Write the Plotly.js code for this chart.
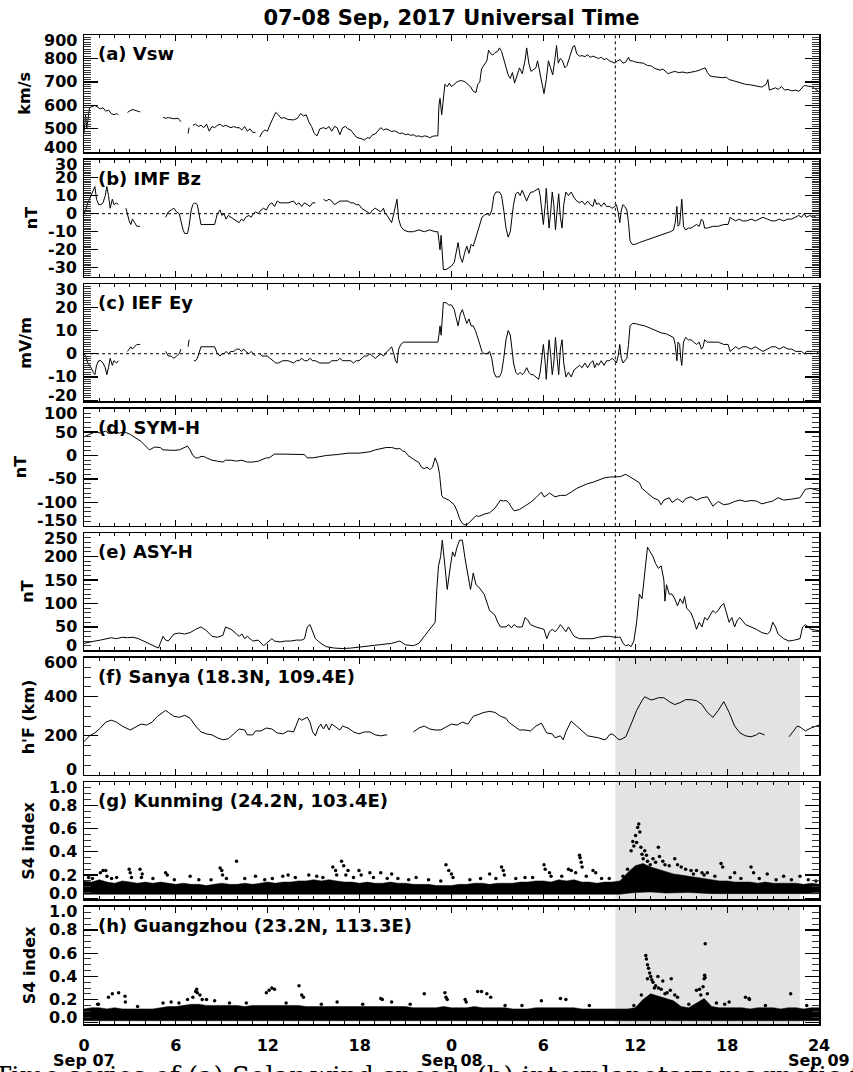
<!DOCTYPE html>
<html><head><meta charset="utf-8">
<script src="https://cdn.plot.ly/plotly-3.0.1.min.js"></script>
<style>html,body{margin:0;padding:0;background:#fff}#chart{width:853px;height:1072px}</style>
</head><body><div id="chart"></div>
<script>
// ---------------- DATA (time in hours from 00 UT Sep 07) ----------------
const hourTicks = [0,6,12,18,24,30,36,42,48];
const hourLabels = ['0','6','12','18','0','6','12','18','24'];
const dayTicks = [0,24,48];
const dayLabels = ['Sep 07','Sep 08','Sep 09'];
const eventTime = 34.7;      // dotted line / start of shaded interval
const shadeEnd = 46.75;      // end of shaded interval

const panelLabels = ['(a) Vsw','(b) IMF Bz','(c) IEF Ey','(d) SYM-H','(e) ASY-H',
  '(f) Sanya (18.3N, 109.4E)','(g) Kunming (24.2N, 103.4E)','(h) Guangzhou (23.2N, 113.3E)'];
const yTitles = ['km/s','nT','mV/m','nT','nT',"h'F (km)",'S4 index','S4 index'];
const yTicksA = [400,500,600,700,800,900];
const yTicksB = [-30,-20,-10,0,10,20,30];
const yTicksC = [-20,-10,0,10,20,30];
const yTicksD = [-150,-100,-50,0,50,100];
const yTicksE = [0,50,100,150,200,250];
const yTicksF = [0,200,400,600];
const yTicksS4 = [0,0.2,0.4,0.6,0.8,1.0];
const captionText = 'Time series of (a) Solar wind speed; (b) interplanetary magnetic field';

const vswData = [[0,480],[0.1,560],[0.18,500],[0.36,590],[0.71,600],[1.07,585],[1.24,590],[1.42,575],[1.6,580],[1.78,565],[1.96,560],[2.13,565],[2.24,560],[2.5,null],
[2.84,570],[3.02,578],[3.2,582],[3.38,578],[3.66,572],[4.5,null],
[5.16,550],[5.33,545],[5.51,548],[5.87,543],[6.15,545],[6.33,530],[6.5,null],
[6.8,480],[6.86,505],[6.95,null],
[7.11,515],[7.29,520],[7.47,510],[7.64,515],[7.82,505],[8.0,520],[8.18,490],[8.36,510],[8.53,505],[8.71,515],[8.89,520],[9.07,510],[9.24,515],[9.42,510],[9.6,505],[9.78,510],[9.96,505],[10.13,505],[10.31,495],[10.49,510],[10.67,490],[10.84,500],[11.02,485],[11.2,485],[11.35,null],
[11.48,465],[11.63,485],[11.8,495],[11.98,490],[12.16,520],[12.34,545],[12.52,570],[12.69,560],[12.87,545],[13.05,548],[13.33,540],[13.69,538],[13.94,545],[14.15,565],[14.33,555],[14.51,560],[14.68,530],[14.86,510],[15.04,480],[15.22,470],[15.4,500],[15.64,505],[15.82,500],[16.0,510],[16.18,490],[16.36,510],[16.53,505],[16.71,475],[16.89,505],[17.07,510],[17.24,500],[17.42,495],[17.6,480],[17.78,465],[17.96,460],[18.13,458],[18.31,452],[18.49,462],[18.67,460],[18.84,475],[19.02,478],[19.2,490],[19.38,505],[19.56,495],[19.73,500],[19.91,495],[20.09,488],[20.27,492],[20.44,485],[20.62,480],[20.8,482],[20.98,475],[21.16,478],[21.33,472],[21.51,475],[21.69,468],[21.87,470],[22.04,465],[22.22,470],[22.4,468],[22.58,462],[22.76,468],[22.93,470],[23.11,470],[23.18,600],[23.25,630],[23.36,560],[23.47,640],[23.57,690],[23.72,680],[23.86,695],[24.0,680],[24.18,690],[24.36,700],[24.53,705],[24.71,705],[24.89,700],[25.07,690],[25.24,680],[25.42,660],[25.6,655],[25.71,690],[25.85,700],[25.96,755],[26.13,770],[26.31,790],[26.42,835],[26.56,820],[26.7,815],[26.84,825],[27.02,830],[27.13,845],[27.27,830],[27.41,800],[27.56,770],[27.7,730],[27.84,715],[27.98,740],[28.12,695],[28.27,730],[28.44,760],[28.62,735],[28.8,790],[28.91,845],[29.05,780],[29.19,745],[29.33,750],[29.51,760],[29.62,790],[29.76,740],[29.9,700],[30.04,650],[30.19,710],[30.33,790],[30.47,760],[30.61,730],[30.76,800],[30.86,855],[30.97,780],[31.11,800],[31.25,790],[31.4,760],[31.54,770],[31.68,800],[31.82,825],[31.93,850],[32.04,855],[32.18,820],[32.36,810],[32.53,812],[32.71,808],[32.89,815],[33.07,805],[33.24,810],[33.42,805],[33.6,800],[33.78,805],[33.96,795],[34.13,800],[34.31,790],[34.49,785],[34.67,780],[34.84,790],[35.02,795],[35.2,780],[35.38,785],[35.56,805],[35.66,790],[35.8,790],[36.0,785],[36.27,782],[36.52,780],[36.8,770],[37.05,768],[37.26,758],[37.44,755],[37.62,750],[37.8,755],[37.97,745],[38.15,735],[38.33,740],[38.58,745],[38.83,740],[39.11,742],[39.36,738],[39.64,740],[39.93,745],[40.18,750],[40.43,755],[40.57,760],[40.71,740],[40.89,725],[41.14,722],[41.42,720],[41.71,718],[41.96,720],[42.13,710],[42.42,705],[42.67,700],[42.92,695],[43.2,690],[43.48,688],[43.73,685],[43.98,680],[44.27,678],[44.55,690],[44.66,710],[44.76,665],[44.98,670],[45.16,675],[45.33,668],[45.55,680],[45.76,665],[45.97,668],[46.22,662],[46.47,665],[46.68,660],[46.86,675],[47.04,685],[47.29,682],[47.54,680],[47.75,670],[48,658]];

const bzData = [[0,0],[0.11,2],[0.25,6],[0.36,8],[0.46,10],[0.6,13],[0.71,15],[0.82,8],[0.96,5],[1.1,5],[1.24,6],[1.39,10],[1.49,15],[1.6,10],[1.71,3],[1.85,8],[1.96,5],[2.13,6],[2.24,5],[2.4,null],
[2.74,3],[2.84,-1],[2.95,-4],[3.06,-6],[3.16,-3],[3.31,-5],[3.45,-7],[3.66,-7],[4.5,null],
[5.33,-2],[5.51,1],[5.69,2],[5.87,3],[6.04,1],[6.22,0],[6.33,-4],[6.47,-9],[6.58,-11],[6.76,-11],[6.86,-7],[7.0,2],[7.11,5],[7.22,6],[7.4,5],[7.5,0],[7.64,-6],[7.82,-6],[8.18,-6],[8.53,-6],[8.71,0],[8.89,2],[9.0,-1],[9.14,0],[9.28,-3],[9.42,-1],[9.6,-2],[9.78,-3],[9.96,-4],[10.13,-5],[10.28,-3],[10.42,-4],[10.56,-2],[10.77,-1],[10.92,-2],[11.06,0],[11.2,1],[11.38,0],[11.56,2],[11.73,3],[11.91,2],[12.09,5],[12.27,6],[12.44,4],[12.62,7],[12.8,6],[12.98,6],[13.33,6],[13.69,7],[13.87,5],[14.04,6],[14.22,4],[14.4,6],[14.58,5],[14.76,4],[14.93,6],[15.11,6],[15.3,null],
[15.64,8],[15.82,7],[16.0,8],[16.18,7],[16.36,5],[16.53,6],[16.71,7],[16.89,7],[17.24,7],[17.42,6],[17.6,6],[17.78,5],[17.96,5],[18.13,3],[18.31,2],[18.49,1],[18.67,0],[18.84,2],[19.02,3],[19.2,2],[19.38,1],[19.56,3],[19.66,0],[19.8,-1],[19.95,-3],[20.09,-5],[20.23,0],[20.34,5],[20.44,8],[20.55,-3],[20.69,-7],[20.87,-9],[21.16,-10],[21.51,-10],[21.87,-9],[22.22,-10],[22.58,-9],[22.93,-10],[23.11,-10],[23.18,-15],[23.25,-20],[23.32,-12],[23.4,-25],[23.47,-31],[23.64,-31],[23.82,-30],[24.0,-29],[24.18,-27],[24.28,-22],[24.43,-16],[24.57,-24],[24.71,-27],[24.85,-22],[25.0,-18],[25.14,-22],[25.28,-17],[25.42,-18],[25.56,-14],[25.71,-10],[25.85,-6],[25.99,-2],[26.13,-1],[26.31,0],[26.49,-1],[26.63,2],[26.77,10],[26.91,12],[27.13,12],[27.27,10],[27.41,2],[27.56,-8],[27.7,-13],[27.84,-10],[27.95,-2],[28.05,5],[28.2,11],[28.34,12],[28.48,10],[28.62,13],[28.76,10],[28.91,7],[29.05,10],[29.19,12],[29.33,12],[29.51,13],[29.69,14],[29.79,10],[29.9,0],[30.0,-6],[30.12,5],[30.19,14],[30.26,5],[30.37,-8],[30.47,0],[30.58,12],[30.68,5],[30.79,-9],[30.9,2],[31.0,11],[31.11,-2],[31.22,-8],[31.33,5],[31.47,12],[31.64,10],[31.82,12],[32.0,9],[32.18,7],[32.36,6],[32.53,7],[32.71,5],[32.89,7],[33.07,5],[33.24,4],[33.35,8],[33.49,5],[33.6,6],[33.78,4],[33.96,6],[34.13,4],[34.31,4],[34.49,3],[34.67,4],[34.77,5],[34.88,1],[34.99,-5],[35.09,2],[35.2,5],[35.31,4],[35.45,2],[35.56,-5],[35.66,-15],[35.8,-17],[36.0,-17],[36.27,-16],[36.62,-15],[36.98,-14],[37.33,-13],[37.69,-12],[38.04,-11],[38.29,-10],[38.5,-9],[38.61,-5],[38.72,4],[38.79,-7],[38.9,-6],[38.97,2],[39.04,8],[39.15,-7],[39.29,-9],[39.47,-8],[39.64,-8],[39.82,-7],[40.0,-6],[40.18,-7],[40.32,-3],[40.43,-4],[40.53,-8],[40.71,-8],[41.07,-7],[41.42,-7],[41.78,-6],[42.06,-6],[42.2,-2],[42.35,-3],[42.56,-4],[42.77,-3],[43.02,-4],[43.27,-4],[43.56,-3],[43.84,-4],[44.09,-3],[44.34,-2],[44.62,-3],[44.91,-4],[45.16,-4],[45.4,-3],[45.69,-4],[45.97,-3],[46.22,-3],[46.47,-2],[46.68,-1],[46.86,-2],[47.04,0],[47.18,-2],[47.4,-1],[47.64,-2],[47.82,-1],[48,-1]];

const eyData = [[0,0],[0.11,-1],[0.25,-4],[0.36,-5],[0.46,-6],[0.6,-8],[0.71,-9],[0.82,-5],[0.96,-3],[1.1,-3],[1.24,-4],[1.39,-6],[1.49,-9],[1.6,-6],[1.71,-2],[1.85,-5],[1.96,-3],[2.13,-4],[2.24,-3],[2.5,null],
[2.84,1],[2.95,2],[3.06,3],[3.16,2],[3.31,3],[3.45,4],[3.66,4],[4.5,null],
[5.33,1],[5.51,-1],[5.69,-1],[5.87,-2],[6.04,-1],[6.22,0],[6.33,2],[6.5,null],
[6.8,3],[6.86,6],[6.95,null],
[7.18,-3],[7.29,-3],[7.4,-2],[7.5,0],[7.64,3],[7.82,3],[8.18,3],[8.53,3],[8.71,0],[8.89,-1],[9.0,0],[9.14,0],[9.28,1],[9.42,0],[9.6,1],[9.78,1],[9.96,2],[10.13,2],[10.28,1],[10.42,2],[10.56,1],[10.77,0],[10.92,1],[11.06,0],[11.2,-1],[11.35,null],
[11.48,0],[11.63,-1],[11.8,-1],[11.98,-1],[12.16,-2],[12.34,-3],[12.52,-4],[12.69,-4],[12.98,-3],[13.33,-3],[13.69,-4],[13.87,-3],[14.04,-3],[14.22,-2],[14.4,-3],[14.58,-3],[14.76,-2],[14.93,-3],[15.11,-3],[15.4,-4],[15.64,-4],[15.82,-4],[16.0,-4],[16.18,-3],[16.36,-3],[16.53,-3],[16.71,-2],[16.89,-3],[17.24,-3],[17.42,-3],[17.6,-4],[17.78,-3],[17.96,-3],[18.13,-2],[18.31,-1],[18.49,-1],[18.67,0],[18.84,-1],[19.02,-2],[19.2,-1],[19.38,0],[19.56,-1],[19.66,0],[19.8,1],[19.95,2],[20.09,3],[20.23,0],[20.34,-3],[20.44,-4],[20.55,2],[20.69,4],[20.87,5],[21.16,5],[21.51,5],[21.87,5],[22.22,5],[22.58,5],[22.93,5],[23.11,5],[23.18,8],[23.25,12],[23.32,8],[23.4,15],[23.47,22],[23.64,22],[23.82,21],[24.0,21],[24.18,19],[24.28,16],[24.43,12],[24.57,17],[24.71,19],[24.85,16],[25.0,13],[25.14,15],[25.28,12],[25.42,12],[25.56,10],[25.71,7],[25.85,4],[25.99,1],[26.13,0],[26.31,0],[26.49,1],[26.63,-2],[26.77,-8],[26.91,-10],[27.13,-10],[27.27,-8],[27.41,-2],[27.56,6],[27.7,10],[27.84,8],[27.95,2],[28.05,-4],[28.2,-8],[28.34,-9],[28.48,-8],[28.62,-9],[28.76,-8],[28.91,-6],[29.05,-8],[29.19,-9],[29.33,-9],[29.51,-10],[29.69,-11],[29.79,-8],[29.9,0],[30.0,4],[30.12,-4],[30.19,-11],[30.26,-4],[30.37,6],[30.47,0],[30.58,-9],[30.68,-4],[30.79,7],[30.9,-2],[31.0,-9],[31.11,2],[31.22,6],[31.33,-4],[31.47,-10],[31.64,-8],[31.82,-10],[32.0,-7],[32.18,-6],[32.36,-5],[32.53,-6],[32.71,-4],[32.89,-6],[33.07,-4],[33.24,-3],[33.35,-6],[33.49,-4],[33.6,-5],[33.78,-3],[33.96,-5],[34.13,-3],[34.31,-3],[34.49,-2],[34.67,-3],[34.77,-4],[34.88,-1],[34.99,4],[35.09,-2],[35.2,-4],[35.31,-3],[35.45,-2],[35.56,4],[35.66,12],[35.8,13],[36.0,13],[36.27,12.5],[36.62,12],[36.98,11],[37.33,10],[37.69,9],[38.04,8.5],[38.29,7.5],[38.5,7],[38.61,4],[38.72,-3],[38.79,5],[38.9,4],[38.97,-2],[39.04,-5],[39.15,5],[39.29,7],[39.47,6],[39.64,6],[39.82,5],[40.0,4],[40.18,5],[40.32,2],[40.43,3],[40.53,6],[40.71,5],[41.07,5],[41.42,5],[41.78,4],[42.06,4],[42.2,1],[42.35,2],[42.56,3],[42.77,2],[43.02,3],[43.27,3],[43.56,2],[43.84,3],[44.09,2],[44.34,1],[44.62,2],[44.91,3],[45.16,3],[45.4,2],[45.69,3],[45.97,2],[46.22,2],[46.47,1],[46.68,1],[46.86,1],[47.04,0],[47.18,1],[47.4,1],[47.64,1],[47.82,1],[48,0]];

const symhData = [[0,40],[0.36,45],[0.71,50],[1.07,48],[1.42,52],[1.6,47],[1.96,50],[2.31,48],[2.67,50],[3.02,45],[3.38,38],[3.73,30],[4.09,18],[4.27,12],[4.62,18],[4.98,17],[5.16,12],[5.51,11],[5.87,11],[6.22,12],[6.4,15],[6.76,20],[6.93,12],[7.11,0],[7.29,-5],[7.47,-5],[7.64,-2],[7.82,-2],[8.0,-5],[8.36,-10],[8.71,-12],[9.07,-14],[9.24,-10],[9.6,-10],[9.96,-12],[10.31,-10],[10.67,-14],[11.02,-14],[11.38,-12],[11.73,-8],[11.91,-5],[12.09,-5],[12.27,0],[12.44,3],[12.98,3],[13.69,2],[14.22,2],[14.4,2],[14.58,-5],[14.93,-5],[15.29,-3],[15.82,0],[16.53,2],[17.24,5],[17.96,5],[18.67,8],[19.02,12],[19.38,15],[19.73,17],[20.09,17],[20.27,15],[20.44,14],[20.62,15],[20.8,10],[20.98,8],[21.16,0],[21.51,-8],[21.87,-15],[22.04,-25],[22.22,-28],[22.4,-25],[22.58,-30],[22.76,-25],[22.93,-5],[23.11,-20],[23.22,-40],[23.36,-85],[23.47,-90],[23.82,-95],[24.0,-100],[24.18,-105],[24.36,-118],[24.53,-135],[24.71,-145],[24.89,-148],[25.07,-146],[25.24,-140],[25.42,-135],[25.6,-128],[25.78,-130],[26.13,-125],[26.49,-122],[26.84,-112],[27.2,-95],[27.38,-97],[27.56,-96],[27.73,-100],[27.91,-110],[28.09,-118],[28.44,-115],[28.8,-107],[29.16,-100],[29.51,-90],[29.87,-78],[30.04,-88],[30.22,-85],[30.4,-80],[30.76,-88],[31.11,-85],[31.47,-85],[31.82,-78],[32.18,-70],[32.53,-65],[32.89,-60],[33.24,-57],[33.6,-52],[33.96,-48],[34.31,-46],[34.67,-45],[35.02,-45],[35.38,-40],[35.73,-47],[36.09,-55],[36.27,-58],[36.44,-70],[36.8,-80],[37.16,-90],[37.51,-95],[37.69,-105],[37.87,-95],[38.22,-90],[38.4,-100],[38.76,-92],[39.11,-100],[39.29,-92],[39.64,-88],[40.0,-95],[40.36,-90],[40.71,-88],[41.07,-108],[41.42,-98],[41.78,-105],[42.13,-103],[42.49,-98],[42.84,-95],[43.2,-98],[43.56,-96],[43.91,-97],[44.27,-103],[44.62,-100],[44.98,-97],[45.33,-90],[45.69,-95],[46.22,-93],[46.76,-90],[47.11,-72],[47.47,-70],[48,-75]];

const asyhData = [[0,15],[0.36,18],[0.71,20],[1.07,22],[1.42,25],[1.78,27],[2.13,25],[2.49,28],[2.84,27],[3.2,28],[3.56,25],[3.91,20],[4.27,15],[4.62,10],[4.87,5],[4.98,15],[5.16,30],[5.33,22],[5.51,20],[5.87,35],[6.22,37],[6.58,35],[6.93,38],[7.29,45],[7.64,50],[8.0,42],[8.36,30],[8.71,28],[9.07,32],[9.24,50],[9.6,45],[9.96,35],[10.13,30],[10.31,35],[10.49,25],[10.67,30],[11.02,20],[11.38,22],[11.73,10],[11.91,15],[12.27,25],[12.44,20],[12.8,18],[13.16,20],[13.51,20],[13.87,22],[14.22,22],[14.4,25],[14.58,50],[14.76,55],[14.93,40],[15.11,25],[15.47,15],[15.82,8],[16.36,5],[16.89,4],[17.42,5],[17.96,7],[18.67,9],[19.38,12],[20.09,15],[20.62,20],[20.8,15],[20.98,12],[21.51,10],[21.87,15],[22.22,30],[22.58,45],[22.76,55],[22.93,60],[23.04,130],[23.15,180],[23.29,200],[23.4,235],[23.57,180],[23.72,130],[23.93,180],[24.07,210],[24.21,200],[24.36,220],[24.53,235],[24.71,235],[24.89,195],[25.07,160],[25.24,130],[25.35,150],[25.42,165],[25.6,140],[25.78,135],[26.13,120],[26.31,100],[26.49,85],[26.84,75],[27.02,60],[27.2,50],[27.56,50],[27.73,55],[27.91,48],[28.09,55],[28.27,50],[28.62,50],[28.8,70],[28.98,65],[29.16,55],[29.51,50],[29.69,48],[30.04,45],[30.22,25],[30.4,40],[30.58,45],[30.76,40],[30.93,45],[31.11,55],[31.47,40],[31.64,50],[32.0,30],[32.36,25],[32.71,25],[33.24,25],[33.6,28],[33.96,30],[34.31,30],[34.67,28],[35.02,28],[35.2,15],[35.38,10],[35.56,12],[35.73,8],[35.91,20],[36.09,60],[36.27,120],[36.44,110],[36.62,170],[36.8,220],[36.98,210],[37.16,200],[37.33,185],[37.51,175],[37.69,180],[37.87,150],[37.94,105],[38.04,140],[38.22,120],[38.4,120],[38.58,110],[38.76,95],[38.93,110],[39.11,100],[39.22,115],[39.36,90],[39.64,80],[39.82,65],[40.0,45],[40.18,60],[40.36,50],[40.53,70],[40.71,65],[40.89,75],[41.07,85],[41.24,80],[41.42,85],[41.6,95],[41.78,100],[41.96,80],[42.13,60],[42.31,70],[42.49,50],[42.67,65],[42.84,70],[43.2,55],[43.56,50],[43.91,45],[44.27,38],[44.62,35],[44.8,40],[44.98,60],[45.16,50],[45.33,35],[45.69,25],[46.04,20],[46.4,22],[46.76,25],[46.93,50],[47.11,55],[47.47,45],[48,42]];

const hfData = [[0,170],[0.36,200],[0.71,215],[1.07,240],[1.42,270],[1.78,280],[2.13,270],[2.49,250],[3.02,230],[3.38,245],[3.73,260],[4.09,255],[4.44,270],[4.8,300],[5.16,320],[5.33,330],[5.51,320],[5.87,300],[6.22,295],[6.58,305],[6.93,290],[7.29,250],[7.64,220],[8.0,210],[8.36,205],[8.71,190],[9.07,180],[9.42,185],[9.78,210],[10.13,235],[10.49,230],[10.67,205],[11.02,205],[11.2,225],[11.56,225],[11.91,240],[12.27,235],[12.62,215],[12.98,210],[13.33,225],[13.69,220],[14.04,290],[14.22,280],[14.58,295],[14.76,270],[14.93,220],[15.11,200],[15.29,240],[15.47,260],[15.64,235],[15.82,260],[16.0,230],[16.18,260],[16.36,250],[16.53,240],[16.71,230],[16.89,250],[17.24,240],[17.6,220],[17.96,210],[18.31,220],[18.67,220],[19.02,205],[19.38,200],[19.73,205],[19.8,205],[20.5,null],
[21.51,220],[21.87,240],[22.22,250],[22.58,235],[22.93,230],[23.29,230],[23.64,245],[24.0,260],[24.36,255],[24.71,270],[25.07,260],[25.42,300],[25.78,310],[26.13,320],[26.49,325],[26.84,320],[27.2,300],[27.56,290],[27.73,270],[28.09,250],[28.44,230],[28.8,230],[29.16,225],[29.51,250],[29.87,265],[30.04,240],[30.22,215],[30.58,210],[30.76,190],[31.11,200],[31.29,180],[31.47,220],[31.82,275],[32.18,250],[32.53,225],[32.89,200],[33.24,195],[33.6,190],[33.96,180],[34.13,185],[34.31,205],[34.49,210],[34.67,200],[34.84,185],[35.02,180],[35.38,195],[35.73,260],[36.09,330],[36.44,380],[36.62,400],[36.98,385],[37.16,385],[37.51,395],[37.87,395],[38.22,375],[38.58,360],[38.93,370],[39.29,385],[39.64,385],[40.0,380],[40.36,360],[40.71,320],[41.07,295],[41.42,330],[41.78,375],[42.13,320],[42.49,250],[42.84,215],[43.2,200],[43.56,195],[43.91,205],[44.09,215],[44.27,210],[44.44,205],[45.2,null],
[46.04,195],[46.4,230],[46.58,250],[46.76,245],[46.93,235],[47.11,225],[47.47,240],[47.82,250],[48,255]];

// S4: dense core of the scatter (upper / lower edge) plus the sparse points above it
const kunUpper = [[0,.15],[.5,.14],[1,.16],[1.5,.14],[2,.13],[2.5,.15],[3,.14],[3.5,.13],[4,.14],[4.5,.13],[5,.14],[5.5,.13],[6,.12],[6.5,.13],[7,.12],[7.5,.12],[8,.11],[8.5,.12],[9,.13],[9.5,.12],[10,.12],[10.5,.13],[11,.12],[11.5,.13],[12,.14],[12.5,.13],[13,.14],[13.5,.14],[14,.15],[14.5,.15],[15,.16],[15.5,.15],[16,.16],[16.5,.15],[17,.14],[17.5,.14],[18,.13],[18.5,.14],[19,.13],[19.5,.13],[20,.14],[20.5,.13],[21,.13],[21.5,.12],[22,.12],[22.5,.12],[23,.11],[23.5,.11],[24,.11],[24.5,.12],[25,.12],[25.5,.13],[26,.13],[26.5,.12],[27,.13],[27.5,.13],[28,.13],[28.5,.14],[29,.14],[29.5,.15],[30,.15],[30.5,.14],[31,.16],[31.5,.15],[32,.16],[32.5,.14],[33,.14],[33.5,.13],[34,.14],[34.5,.14],[35,.15],[35.5,.22],[36,.28],[36.5,.3],[37,.27],[37.5,.25],[38,.23],[38.5,.21],[39,.2],[39.5,.19],[40,.18],[40.5,.17],[41,.16],[41.5,.15],[42,.15],[42.5,.14],[43,.14],[43.5,.14],[44,.13],[44.5,.14],[45,.13],[45.5,.13],[46,.13],[46.5,.13],[47,.12],[47.5,.13],[48,.12]];
const kunLower = [[0,.035],[6,.035],[12,.033],[18,.035],[24,.035],[30,.035],[35,.035],[36,.05],[37,.055],[38,.045],[39.5,.05],[41,.04],[44,.04],[48,.04]];
const kunPoints = [[0.3,.18],[0.55,.17],[1.07,.22],[1.24,.24],[1.42,.24],[1.5,.19],[1.8,.17],[2.13,.18],[2.95,.25],[3.02,.22],[3.1,.18],[3.66,.25],[3.8,.21],[3.75,.18],[4.5,.17],[5.33,.22],[5.44,.2],[5.9,.16],[6.93,.19],[7.5,.16],[8.3,.16],[8.89,.26],[9.0,.24],[9.05,.2],[9.3,.17],[9.96,.32],[10.5,.17],[11.2,.19],[11.8,.16],[12.3,.17],[12.98,.19],[13.33,.2],[13.8,.18],[14.68,.2],[15.2,.19],[15.6,.18],[16.25,.27],[16.43,.24],[16.5,.2],[16.82,.32],[16.96,.28],[17.1,.2],[17.24,.24],[17.6,.18],[17.96,.24],[18.1,.2],[18.67,.22],[18.9,.18],[19.38,.22],[19.8,.17],[20.09,.21],[20.5,.17],[21.2,.16],[21.69,.18],[22.5,.16],[23.3,.15],[23.64,.29],[23.82,.24],[24.0,.21],[24.1,.18],[25.2,.16],[25.9,.17],[26.49,.21],[26.9,.17],[27.27,.27],[27.38,.24],[27.45,.2],[28.2,.17],[28.8,.18],[29.3,.18],[30.04,.29],[30.12,.25],[30.4,.22],[30.5,.19],[31.2,.19],[31.64,.25],[31.82,.24],[32.11,.22],[32.36,.37],[32.4,.35],[32.47,.31],[32.53,.27],[32.8,.19],[33.24,.24],[33.42,.22],[33.8,.17],[34.3,.17],[35.2,.19],[35.5,.25],[35.73,.41],[35.84,.49],[35.91,.45],[36.02,.54],[36.09,.48],[36.16,.61],[36.23,.64],[36.3,.57],[36.37,.44],[36.44,.38],[36.52,.34],[36.62,.41],[36.73,.37],[36.8,.32],[36.98,.29],[37.16,.34],[37.33,.31],[37.51,.44],[37.58,.36],[37.8,.32],[37.94,.29],[38.22,.28],[38.58,.34],[38.76,.29],[39.0,.27],[39.29,.25],[39.64,.24],[39.8,.21],[40.0,.24],[40.36,.22],[40.5,.2],[40.71,.22],[41.2,.19],[41.6,.3],[41.71,.27],[42.2,.18],[42.49,.22],[42.9,.17],[43.56,.27],[43.73,.22],[44.1,.17],[44.62,.21],[45.2,.16],[45.69,.19],[46.2,.16],[46.76,.19],[47.3,.16],[47.8,.15]];
const gzUpper = [[0,.12],[.5,.13],[1,.13],[1.5,.12],[2,.13],[2.5,.12],[3,.12],[3.5,.12],[4,.12],[4.5,.12],[5,.13],[5.5,.14],[6,.14],[6.5,.15],[7,.16],[7.5,.16],[8,.15],[8.5,.15],[9,.15],[9.5,.15],[10,.15],[10.5,.14],[11,.15],[11.5,.15],[12,.15],[12.5,.15],[13,.15],[13.5,.15],[14,.15],[14.5,.14],[15,.14],[15.5,.14],[16,.14],[16.5,.14],[17,.14],[17.5,.14],[18,.14],[18.5,.14],[19,.14],[19.5,.14],[20,.14],[20.5,.14],[21,.14],[21.5,.13],[22,.13],[22.5,.13],[23,.13],[23.5,.14],[24,.13],[24.5,.13],[25,.13],[25.5,.14],[26,.13],[26.5,.13],[27,.13],[27.5,.13],[28,.12],[28.5,.12],[29,.12],[29.5,.13],[30,.13],[30.5,.13],[31,.13],[31.5,.13],[32,.13],[32.5,.12],[33,.12],[33.5,.12],[34,.12],[34.5,.12],[35,.12],[35.5,.12],[36,.13],[36.5,.2],[37,.25],[37.5,.23],[38,.21],[38.5,.19],[39,.14],[39.5,.13],[40,.17],[40.5,.21],[41,.14],[41.5,.13],[42,.13],[42.5,.13],[43,.13],[43.5,.12],[44,.13],[44.5,.13],[45,.13],[45.5,.12],[46,.13],[46.5,.13],[47,.12],[47.5,.13],[48,.13]];
const gzLower = [[0,.018],[12,.018],[24,.02],[36,.02],[48,.018]];
const gzPoints = [[0.89,.16],[0.94,.16],[1.6,.22],[1.85,.25],[2.26,.26],[2.68,.23],[2.7,.18],[3.5,.14],[5.16,.17],[5.69,.18],[6.2,.17],[6.76,.2],[7.11,.22],[7.29,.27],[7.36,.29],[7.4,.26],[7.57,.24],[7.72,.2],[8.0,.2],[8.53,.19],[9.5,.17],[10.6,.17],[11.91,.26],[12.09,.28],[12.27,.3],[12.44,.29],[13.2,.17],[14.04,.32],[14.22,.24],[14.33,.22],[15.5,.16],[16.53,.18],[18.2,.16],[19.38,.21],[19.48,.2],[20.09,.18],[21.3,.16],[22.22,.25],[23.57,.26],[23.64,.22],[23.72,.2],[24.89,.2],[24.96,.18],[25.71,.27],[25.96,.27],[26.31,.25],[26.56,.22],[27.5,.15],[28.6,.15],[29.87,.19],[31.11,.21],[31.47,.2],[33.0,.15],[35.91,.15],[36.4,.24],[36.69,.58],[36.73,.55],[36.8,.5],[36.87,.47],[36.94,.43],[37.01,.4],[36.8,.38],[37.08,.37],[37.16,.35],[37.25,.3],[37.33,.32],[37.48,.4],[37.51,.3],[37.69,.29],[37.8,.36],[37.94,.25],[38.08,.26],[38.29,.28],[38.35,.38],[38.58,.24],[38.76,.22],[39.5,.16],[40.0,.28],[40.2,.29],[40.28,.24],[40.43,.31],[40.5,.38],[40.53,.41],[40.56,.39],[40.57,.68],[40.71,.25],[41.3,.17],[41.84,.16],[42.13,.18],[43.2,.22],[43.43,.21],[43.46,.2],[44.5,.15],[46.15,.25],[47.2,.15]];

// ---------------- LAYOUT ----------------
const W = 853, HT = 1072, ML = 84, MR = 34, MT = 35, MB = 48;
const PH = HT - MT - MB, panelH = 117.3, gapH = (PH - 8*panelH)/7;
const boldFont = {family:'DejaVu Sans, Arial, sans-serif', size:16, color:'black', weight:'bold'};

const panels = [
  {data:vswData, range:[400,900], dtick:100, minor:10, ticks:yTicksA, dec:0},
  {data:bzData, range:[-35,30], dtick:10, minor:1, ticks:yTicksB, dec:0},
  {data:eyData, range:[-20.5,30], dtick:10, minor:1, ticks:yTicksC, dec:0},
  {data:symhData, range:[-150,100], dtick:50, minor:10, ticks:yTicksD, dec:0},
  {data:asyhData, range:[0,250], dtick:50, minor:10, ticks:yTicksE, dec:0},
  {data:hfData, range:[0,600], dtick:200, minor:50, ticks:yTicksF, dec:0},
  {upper:kunUpper, lower:kunLower, points:kunPoints, range:[-0.01,1.0], dtick:0.2, minor:0.05, ticks:yTicksS4, dec:1},
  {upper:gzUpper, lower:gzLower, points:gzPoints, range:[-0.01,1.0], dtick:0.2, minor:0.05, ticks:yTicksS4, dec:1}
];
const yTitleX = [25,31,26,20,28,28,29,29];

const layout = {
  width:W, height:HT, margin:{l:ML, r:MR, t:MT, b:MB, pad:0},
  paper_bgcolor:'white', plot_bgcolor:'white', showlegend:false,
  title:{text:'07-08 Sep, 2017 Universal Time', x:0.5, xref:'paper', y:1-18/HT, yanchor:'middle',
    font:{family:'DejaVu Sans, Arial, sans-serif', size:21, color:'black', weight:'bold'}},
  shapes:[], annotations:[]
};
const traces = [];

panels.forEach((p, i) => {
  const s = i === 0 ? '' : String(i+1);
  const xr = 'x'+s, yr = 'y'+s;
  const top = i*(panelH+gapH), bot = top+panelH;
  layout['xaxis'+s] = {
    domain:[0,1], range:[0,48], anchor:yr, tickmode:'array', tickvals:hourTicks, ticktext:hourLabels,
    showticklabels: i === 7, ticks:'inside', ticklen:6, tickwidth:1.2, tickcolor:'black',
    minor:{tickmode:'linear', tick0:0, dtick:1, ticks:'inside', ticklen:3, tickwidth:1, tickcolor:'black'},
    showline:true, linecolor:'black', linewidth:1.5, mirror:'allticks', showgrid:false, zeroline:false,
    tickfont:boldFont, ticklabelstandoff:6, fixedrange:true
  };
  layout['yaxis'+s] = {
    domain:[1-bot/PH, 1-top/PH], range:p.range, anchor:xr, tickmode:'linear', tick0:0, dtick:p.dtick,
    showticklabels:false, ticks:'inside', ticklen:14, tickwidth:1.2, tickcolor:'black',
    minor:{tickmode:'linear', tick0:0, dtick:p.minor, ticks:'inside', ticklen:7, tickwidth:1, tickcolor:'#333'},
    showline:true, linecolor:'black', linewidth:1.5, mirror:'allticks', showgrid:false, zeroline:false, fixedrange:true
  };
  // y tick labels (kept inside the panel at the extremes, as in the original)
  p.ticks.forEach(v => {
    let shift = 0;
    if (Math.abs(v - p.range[1]) < p.dtick*0.06) shift = -5;
    if (Math.abs(v - p.range[0]) < p.dtick*0.06) shift = 5;
    layout.annotations.push({xref:'paper', x:0, xanchor:'right', xshift:-5, yref:yr, y:v, yanchor:'middle',
      yshift:shift, text:v.toFixed(p.dec), showarrow:false, font:boldFont});
  });
  // y title
  layout.annotations.push({xref:'paper', x:(yTitleX[i]-ML)/(W-ML-MR), xanchor:'center', yref:yr+' domain', y:0.5,
    yanchor:'middle', textangle:-90, text:yTitles[i], showarrow:false, font:boldFont});
  // panel label
  layout.annotations.push({xref:xr+' domain', x:0.016, xanchor:'left', yref:yr+' domain', y:1, yanchor:'top', yshift:-6,
    text:panelLabels[i], showarrow:false, font:{family:'DejaVu Sans, Arial, sans-serif', size:18, color:'black', weight:'bold'}});

  if (i <= 4) {
    layout.shapes.push({type:'line', xref:xr, yref:yr+' domain', x0:eventTime, x1:eventTime, y0:0, y1:1,
      line:{color:'black', width:1, dash:'dot'}});
  }
  if (i === 1 || i === 2) {
    layout.shapes.push({type:'line', xref:xr+' domain', yref:yr, x0:0, x1:1, y0:0, y1:0,
      line:{color:'black', width:1, dash:'dot'}});
  }
  if (i >= 5) {
    layout.shapes.push({type:'rect', xref:xr, yref:yr+' domain', x0:eventTime, x1:shadeEnd, y0:0, y1:1,
      fillcolor:'#e3e3e3', line:{width:0}, layer:'below'});
  }

  if (p.data) {
    traces.push({type:'scatter', mode:'lines', xaxis:xr, yaxis:yr, x:p.data.map(d=>d[0]), y:p.data.map(d=>d[1]),
      line:{color:'black', width:1}, connectgaps:false, hoverinfo:'skip'});
  } else {
    const lowRev = p.lower.slice().reverse();
    traces.push({type:'scatter', mode:'lines', xaxis:xr, yaxis:yr,
      x:p.upper.map(d=>d[0]).concat(lowRev.map(d=>d[0])),
      y:p.upper.map(d=>d[1]).concat(lowRev.map(d=>d[1])),
      fill:'toself', fillcolor:'black', line:{color:'black', width:0.5}, hoverinfo:'skip'});
    traces.push({type:'scatter', mode:'markers', xaxis:xr, yaxis:yr, x:p.points.map(d=>d[0]), y:p.points.map(d=>d[1]),
      marker:{color:'black', size:3.5}, hoverinfo:'skip'});
  }
});

// date labels under the hour labels
dayTicks.forEach((t, k) => {
  layout.annotations.push({xref:'x8', x:t, xanchor:'center', yref:'paper', y:0, yanchor:'top', yshift:-25,
    text:dayLabels[k], showarrow:false, font:boldFont});
});
// figure caption, only its upper part is visible at the bottom edge (as in the original crop)
layout.annotations.push({xref:'paper', x:0, xanchor:'left', xshift:-92, yref:'paper', y:0, yanchor:'top', yshift:-35,
  text:captionText, showarrow:false,
  font:{family:'DejaVu Serif, Liberation Serif, serif', size:26, color:'black'}});

Plotly.newPlot('chart', traces, layout, {staticPlot:true, displayModeBar:false});
</script></body></html>
